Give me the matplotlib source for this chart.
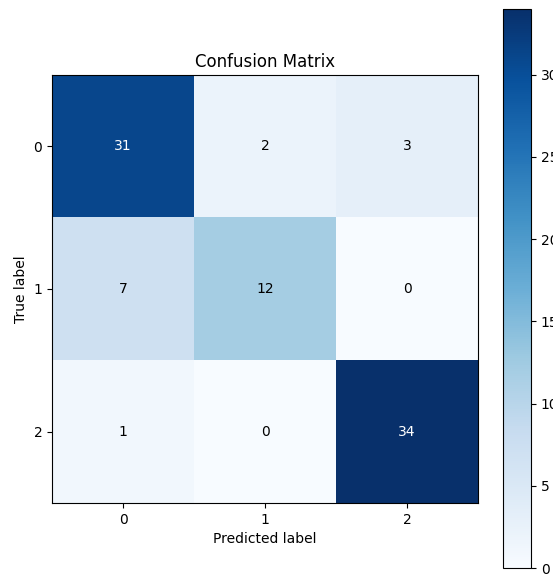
import numpy as np
import matplotlib
matplotlib.use('Agg')
import matplotlib.pyplot as plt

labels = ['0', '1', '2']
cm = np.array([[31, 2, 3],
               [7, 12, 0],
               [1, 0, 34]])

W, H = 553, 576
fig = plt.figure(figsize=(W / 100, H / 100), dpi=100)
ax = fig.add_axes([52 / W, (H - 503) / H, 426 / W, 428 / H])
cax = fig.add_axes([503 / W, (H - 568) / H, 28 / W, 559 / H])

im = ax.imshow(cm, interpolation='nearest', cmap=plt.cm.Blues, aspect='auto')
cb = fig.colorbar(im, cax=cax)

ax.set_title('Confusion Matrix')
ax.set_xticks(np.arange(len(labels)))
ax.set_yticks(np.arange(len(labels)))
ax.set_xticklabels(labels)
ax.set_yticklabels(labels)
ax.set_xlabel('Predicted label')
ax.set_ylabel('True label')

thresh = cm.max() / 2.
for i in range(cm.shape[0]):
    for j in range(cm.shape[1]):
        ax.text(j, i, format(cm[i, j], 'd'),
                ha='center', va='center',
                color='white' if cm[i, j] > thresh else 'black')

fig.savefig('out.png', dpi=100)
